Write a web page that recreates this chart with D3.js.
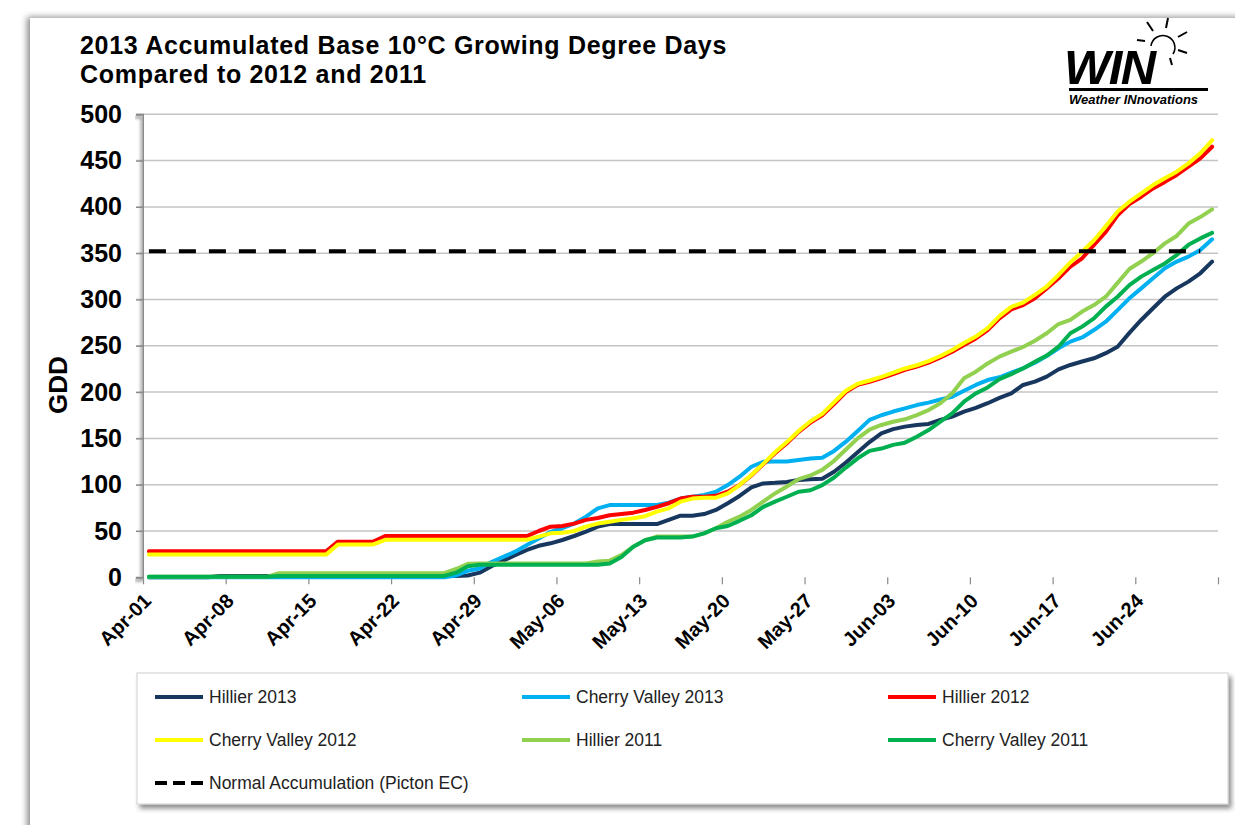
<!DOCTYPE html>
<html lang="en">
<head>
<meta charset="UTF-8" />
<title>2013 Accumulated Base 10°C Growing Degree Days</title>
<script src="https://d3js.org/d3.v7.min.js"></script>
<style>
  body { margin: 0; background: #fff; }
  svg text { font-family: Arial, "Liberation Sans", sans-serif; }
</style>
</head>
<body>
<div id="chart"></div>
<script>
// ---- data (daily accumulated GDD, Apr-01 .. Jun-30) ----
const startDate = new Date(2013, 3, 1);
const endDate = new Date(2013, 6, 1);

const hillier2013 = [0,0,0,0,0,0,1.5,1.5,1.5,1.5,1.5,1.5,1.5,1.5,1.5,1.5,1.5,1.5,1.5,1.5,1.5,1.5,1.5,1.5,1.5,1.5,1.5,2,
  5,12,18,24,29.5,34,36.7,40.3,44.6,49.3,54.7,57.5,57.5,57.5,57.5,57.5,
  62,66.5,66.5,68.3,72.7,80,87.8,97,101.4,102,103,105,105.8,106.5,114,124,135,146,155.5,160,162.7,164.5,165.6,170,173.5,179,183,188,193.7,198.7,207.7,211.3,216.7,224.5,229.3,233,236.5,242,249,264,277.9,290.5,303,312,319.3,328.3,340.9];

const cherryValley2013 = [0,0,0,0,0,0,0,0,0,0,0,0,0,0,0,0,0,0,0,0,0,0,0,0,0,0,
  2,7,9.5,16.5,22,27.7,35,42,49,53,58,65.5,74.5,78,78,78,78,78,
  80.6,85,87,89,92.4,99.6,108.6,119.4,124.8,125,125,126.6,128.4,129,136.5,146.5,158,170,175,179,182.5,186,188.6,192,195,201.5,207.7,213,216,221,225.7,231.8,239,247.3,254.5,259,267,276,288.6,301.3,312,322.9,333.7,341,346.3,353.5,365];

const hillier2012 = [28,28,28,28,28,28,28,28,28,28,28,28,28,28,28,28,38.5,38.5,38.5,38.5,
  44.5,44.5,44.5,44.5,44.5,44.5,44.5,44.5,44.5,44.5,44.5,44.5,44.5,
  50,54.7,55.4,58,62,64,67,68.3,69.8,72.7,76,80,85,87,87,88,92.4,99.6,110,122,134,144.7,157,167,175,187,200,208,211,215,219.5,224,227.5,231.8,237.5,243.7,250.9,258,267,279.6,289.4,294,301.3,312,323,335.5,344.5,359,373,391,403,411,420,427,434.5,443.4,452.4,465];

const cherryValley2012 = [24.5,24.5,24.5,24.5,24.5,24.5,24.5,24.5,24.5,24.5,24.5,24.5,24.5,24.5,24.5,24.5,35.5,35.5,35.5,35.5,
  40.5,40.5,40.5,40.5,40.5,40.5,40.5,40.5,40.5,40.5,40.5,40.5,40.5,
  44,47.5,48,50,54.7,58,60,62,63.7,66,71,74.5,81.7,85,86,86,90.6,99.6,110.5,122.5,135,146,158,168.5,176.5,189,201.5,209,212.5,216.5,221,225.5,229,233.5,239,245.5,253,260,269,282,292,296.6,305,314,326.5,340,351.6,364,379,395,405.6,414.7,423.6,431,438,447,457.8,472];

const hillier2011 = [0.5,0.5,0.5,0.5,0.5,0.5,0.5,0.5,0.5,0.5,0.5,
  4.5,4.5,4.5,4.5,4.5,4.5,4.5,4.5,4.5,4.5,4.5,4.5,4.5,4.5,4.5,
  9,14.5,15,15,15,15,15,15,15,15,15,15,17,18,24,33,40,44,44,44,44,
  47.5,53,60,65.5,72.7,81.7,90.6,98,106,110,116,125.8,138,150,159.5,164.5,168,170.6,175.2,180.6,188,198.7,214.9,222,231,238.3,243.7,248.7,255.5,263.5,273.5,278,287,294,303,318,333,341,350,360.6,368.6,382,389,397.3];

const cherryValley2011 = [0.5,0.5,0.5,0.5,0.5,0.5,0.5,0.5,0.5,0.5,0.5,
  1.5,1.5,1.5,1.5,1.5,1.5,1.5,1.5,1.5,1.5,1.5,1.5,1.5,1.5,1.5,
  5,12,13.5,13.5,13.5,13.5,13.5,13.5,13.5,13.5,13.5,13.5,13.5,15,22,33,40,43,43,43,
  44,47.5,53,55.4,61,67,76,81.7,87,92.4,94,99.6,107.8,118.5,128.5,136.5,139,143,145.4,151.8,159,168,177,189.6,198.6,205,214,219.4,225.6,232.7,239.5,249,263.5,270.7,279.6,292.3,303,315.6,324.7,331.9,339,348,359,366,372];

const normalAccumulation = 352;   // Picton EC normal, drawn Apr-01 .. Jun-29
const normalDays = 90;

const seriesNames = ["Hillier 2013", "Cherry Valley 2013", "Hillier 2012",
                     "Cherry Valley 2012", "Hillier 2011", "Cherry Valley 2011"];
const seriesValues = [hillier2013, cherryValley2013, hillier2012,
                      cherryValley2012, hillier2011, cherryValley2011];
const seriesColors = ["#17375E", "#00B0F0", "#FF0000", "#FFFF00", "#92D050", "#00B050"];
const normalName = "Normal Accumulation (Picton EC)";

const yTicks = d3.range(0, 501, 50);
const titleLines = ["2013 Accumulated Base 10°C Growing Degree Days", "Compared to 2012 and 2011"];

// ---- layout ----
const W = 1235, H = 825;
const plot = { left: 143, right: 1218, top: 114.3, bottom: 577.3 };

const svg = d3.select("#chart").append("svg")
  .attr("width", W).attr("height", H);

const defs = svg.append("defs");
const sh = defs.append("filter").attr("id", "shadow")
  .attr("x", "-5%").attr("y", "-5%").attr("width", "115%").attr("height", "130%");
sh.append("feDropShadow").attr("dx", 3).attr("dy", 4).attr("stdDeviation", 2.5)
  .attr("flood-color", "#000").attr("flood-opacity", 0.45);
const axSh = defs.append("filter").attr("id", "axshadow")
  .attr("x", "-5%").attr("y", "-50%").attr("width", "110%").attr("height", "300%");
axSh.append("feDropShadow").attr("dx", -1.5).attr("dy", 2.5).attr("stdDeviation", 1.5)
  .attr("flood-color", "#000").attr("flood-opacity", 0.5);

// outer chart frame (shadowed edge at left)
svg.append("rect")
  .attr("x", 30).attr("y", 18).attr("width", W).attr("height", H)
  .attr("fill", "#fff")
  .style("filter", "drop-shadow(-3px -1px 3px rgba(0,0,0,0.45))");

// scales
const x = d3.scaleTime().domain([startDate, endDate]).range([plot.left, plot.right]);
const y = d3.scaleLinear().domain([0, 500]).range([plot.bottom, plot.top]);
const dayDate = i => d3.timeHour.offset(d3.timeDay.offset(startDate, i), 12);

// gridlines
svg.append("g").selectAll("line").data(yTicks.filter(d => d > 0)).join("line")
  .attr("x1", plot.left - 7).attr("x2", plot.right)
  .attr("y1", d => y(d)).attr("y2", d => y(d))
  .attr("stroke", "#c4c4c4").attr("stroke-width", 1.5);

// y axis
const yAxis = svg.append("g").attr("transform", `translate(${plot.left},0)`)
  .call(d3.axisLeft(y).tickValues(yTicks).tickSize(7).tickPadding(14));
yAxis.select(".domain").attr("stroke", "#8a8a8a").attr("stroke-width", 2)
  .style("filter", "url(#axshadow)");
yAxis.selectAll(".tick line").attr("stroke", "#8a8a8a").attr("stroke-width", 1.2);
yAxis.selectAll(".tick text").attr("font-size", 25).attr("font-weight", "bold")
  .attr("fill", "#000");

// x axis
const weekTicks = d3.timeDay.range(startDate, endDate, 7);
const xAxis = svg.append("g").attr("transform", `translate(0,${plot.bottom})`)
  .call(d3.axisBottom(x).tickValues(weekTicks.concat([endDate])).tickSize(7)
    .tickSizeOuter(0).tickFormat(d3.timeFormat("%b-%d")));
xAxis.select(".domain").attr("stroke", "#8a8a8a").attr("stroke-width", 2)
  .style("filter", "url(#axshadow)");
xAxis.selectAll(".tick line").attr("stroke", "#8a8a8a").attr("stroke-width", 1.2);
xAxis.selectAll(".tick text")
  .attr("font-size", 20).attr("font-weight", "bold").attr("fill", "#000")
  .attr("text-anchor", "end")
  .attr("transform", "translate(-1,15) rotate(-45)")
  .attr("dy", "0.7em").attr("dx", "0")
  .attr("y", 0);
xAxis.selectAll(".tick").filter(d => +d === +endDate).select("text").remove();

// axis title
svg.append("text")
  .attr("transform", "translate(58,385) rotate(-90)")
  .attr("text-anchor", "middle").attr("dy", "0.36em")
  .attr("font-size", 26).attr("font-weight", "bold").attr("fill", "#000")
  .text("GDD");

// series lines
const line = d3.line().x((d, i) => x(dayDate(i))).y(d => y(d));
svg.append("g").selectAll("path").data(seriesValues).join("path")
  .attr("d", line)
  .attr("fill", "none")
  .attr("stroke", (d, i) => seriesColors[i])
  .attr("stroke-width", 4)
  .attr("stroke-linejoin", "round")
  .attr("stroke-linecap", "round");

// normal accumulation (dashed)
svg.append("line")
  .attr("x1", x(dayDate(0))).attr("x2", x(dayDate(normalDays - 1)))
  .attr("y1", y(normalAccumulation)).attr("y2", y(normalAccumulation))
  .attr("stroke", "#000").attr("stroke-width", 4)
  .attr("stroke-dasharray", "17 13");

// title
svg.append("g").selectAll("text").data(titleLines).join("text")
  .attr("x", 80).attr("y", (d, i) => 54 + i * 29)
  .attr("font-size", 25).attr("font-weight", "bold").attr("letter-spacing", 0.7)
  .attr("fill", "#000")
  .text(d => d);

// WIN logo
const logo = svg.append("g");
const logoText = logo.append("text").attr("font-weight", "bold").attr("font-style", "italic")
  .attr("fill", "#000");
logoText.append("tspan").attr("x", 1064).attr("y", 84)
  .attr("font-size", 49).attr("letter-spacing", -1.5).text("WIN");
logoText.append("tspan").attr("x", 1069).attr("y", 104)
  .attr("font-size", 13).attr("letter-spacing", 0).text("Weather INnovations");
logo.append("rect").attr("x", 1069).attr("y", 88).attr("width", 139).attr("height", 3).attr("fill", "#000");
logo.append("path").attr("d", "M1151,46 A12,12 0 1 1 1173,54")
  .attr("fill", "none").attr("stroke", "#000").attr("stroke-width", 1.6);
const rays = [[1147,22,1153,31],[1168,18,1166,28],[1187,32,1178,37],[1187,53,1178,50],[1172,65,1170,58],[1137,40,1145,41]];
logo.append("g").selectAll("line").data(rays).join("line")
  .attr("x1", d => d[0]).attr("y1", d => d[1]).attr("x2", d => d[2]).attr("y2", d => d[3])
  .attr("stroke", "#000").attr("stroke-width", 2);

// legend box
const lg = svg.append("g");
lg.append("rect").attr("x", 137).attr("y", 673).attr("width", 1091).attr("height", 131)
  .attr("fill", "#fff").attr("stroke", "#d0d0d0").attr("stroke-width", 1)
  .style("filter", "url(#shadow)");

const legendItems = seriesNames.map((n, i) => ({ name: n, color: seriesColors[i], dash: null }))
  .concat([{ name: normalName, color: "#000", dash: "12 6" }]);
const colX = [155, 522, 888], rowY = [697, 740, 783];
const items = lg.selectAll("g.item").data(legendItems).join("g")
  .attr("class", "item")
  .attr("transform", (d, i) => `translate(${colX[i % 3]},${rowY[Math.floor(i / 3)]})`);
items.append("line").attr("x1", 0).attr("x2", 48).attr("y1", 0).attr("y2", 0)
  .attr("stroke", d => d.color).attr("stroke-width", 4)
  .attr("stroke-dasharray", d => d.dash);
items.append("text").attr("x", 54).attr("dy", "0.35em")
  .attr("font-size", 17.5).attr("fill", "#222").text(d => d.name);
</script>
</body>
</html>
